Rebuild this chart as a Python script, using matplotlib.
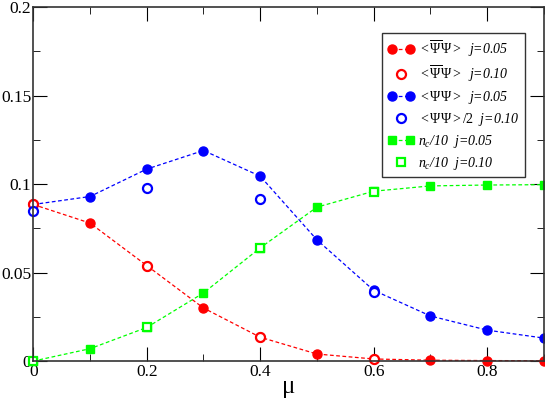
import matplotlib

matplotlib.use("Agg")
import matplotlib.pyplot as plt
from matplotlib.legend_handler import HandlerLine2D
from matplotlib.ticker import MultipleLocator

plt.rcParams["font.family"] = "Liberation Serif"
plt.rcParams["mathtext.fontset"] = "custom"
plt.rcParams["mathtext.rm"] = "Liberation Serif"
plt.rcParams["mathtext.it"] = "Liberation Serif:italic"

# j = 0.05 (filled, dashed)
mu = [0.0, 0.1, 0.2, 0.3, 0.4, 0.5, 0.6, 0.7, 0.8, 0.9]
psibar_psi_05 = [0.0885, 0.078, 0.054, 0.030, 0.0135, 0.004, 0.0012, 0.0005, 0.0003, 0.0002]
psi_psi_05 = [0.0885, 0.093, 0.1085, 0.119, 0.1045, 0.0685, 0.040, 0.0255, 0.0175, 0.013]
nc_05 = [0.0, 0.007, 0.019, 0.0385, 0.064, 0.087, 0.0960, 0.099, 0.0995, 0.0997]

# j = 0.10 (open symbols)
mu_10 = [0.0, 0.2, 0.4, 0.6]
psibar_psi_10 = [0.0885, 0.054, 0.0135, 0.0012]
psi_psi_10 = [0.085, 0.098, 0.0915, 0.039]
nc_10 = [0.0, 0.019, 0.064, 0.0955]

fig = plt.figure(figsize=(5.45, 3.99), dpi=100)
ax = fig.add_axes([0.061, 0.095, 0.937, 0.887])

dash = dict(ls="--", dashes=(3, 2), lw=0.9, clip_on=False)
h1, = ax.plot(mu, psibar_psi_05, color="red", marker="o", ms=6.5, **dash)
h3, = ax.plot(mu, psi_psi_05, color="blue", marker="o", ms=6.5, **dash)
h5, = ax.plot(mu, nc_05, color="#00ff00", marker="s", ms=6, **dash)
op = dict(ls="none", mfc="white", mew=1.6, clip_on=False)
h2, = ax.plot(mu_10, psibar_psi_10, marker="o", ms=6.5, mec="red", **op)
h4, = ax.plot(mu_10, psi_psi_10, marker="o", ms=6.5, mec="blue", **op)
h6, = ax.plot(mu_10, nc_10, marker="s", ms=6, mec="#00ff00", **op)

ax.set_xlim(0, 0.9)
ax.set_ylim(0, 0.2)
ax.xaxis.set_minor_locator(MultipleLocator(0.1))
ax.yaxis.set_minor_locator(MultipleLocator(0.025))
ax.set_xticks([0, 0.2, 0.4, 0.6, 0.8])
ax.set_xticklabels(["0", "0.2", "0.4", "0.6", "0.8"])
ax.set_yticks([0, 0.05, 0.1, 0.15, 0.2])
ax.set_yticklabels(["0", "0.05", "0.1", "0.15", "0.2"])
ax.tick_params(which="both", direction="in", top=True, right=True, labelsize=12.5, pad=2)
ax.tick_params(axis="y", pad=1.5)
ax.tick_params(which="major", length=10)
ax.tick_params(which="minor", length=5)
for s in ax.spines.values():
    s.set_linewidth(1.2)
    s.set_color("#333333")

ax.set_xlabel("μ", fontsize=18, labelpad=-3)

# legend text is italic; the bracket parts are set upright via mathrm
pbp = r"$\mathrm{<}\overline{\Psi}\Psi\mathrm{>}$"
pp = r"$\mathrm{<}\Psi\Psi\mathrm{>}$"
labels = [
    pbp + "  j=0.05",
    pbp + "  j=0.10",
    pp + "  j=0.05",
    pp + r"$\mathrm{/2}$" + "  j=0.10",
    r"$n_c$/10  j=0.05",
    r"$n_c$/10  j=0.10",
]
one = HandlerLine2D(numpoints=1)
leg = ax.legend(
    [h1, h2, h3, h4, h5, h6], labels,
    loc="upper right", bbox_to_anchor=(0.963, 0.927), borderaxespad=0,
    numpoints=2, handlelength=1.9, handletextpad=0.3,
    prop={"size": 10, "style": "italic"},
    fancybox=False, framealpha=1, edgecolor="#333333",
    borderpad=0.4, labelspacing=0.35,
    handler_map={h2: one, h4: one, h6: one},
)
leg.get_frame().set_linewidth(1.0)

fig.savefig("out.png", dpi=100)
